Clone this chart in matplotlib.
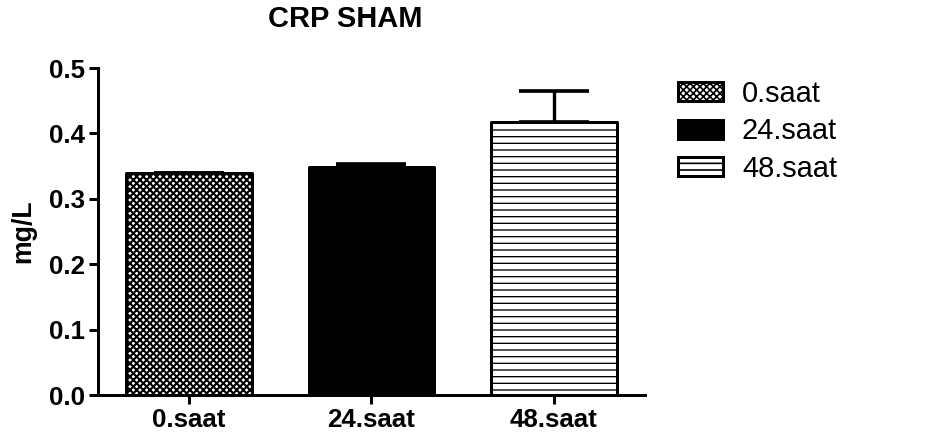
import numpy as np
import matplotlib.pyplot as plt

plt.rcParams['font.family'] = ['Liberation Sans', 'DejaVu Sans']

# CRP values per time point (mean and upper error)
groups = ['0.saat', '24.saat', '48.saat']
means = [0.339, 0.349, 0.417]
errs = [0.0, 0.004, 0.048]
hatches = ['xxxxxx', '', '---']
fills = ['white', 'black', 'white']

fig = plt.figure(figsize=(934 / 120, 436 / 120), dpi=120)
ax = fig.add_axes([0.1049, 0.094, 0.5857, 0.75])

x = np.arange(len(groups))
for i in range(len(groups)):
    bars = ax.bar(x[i], means[i], width=0.69, color=fills[i], edgecolor='black',
                  linewidth=1.8, hatch=hatches[i], label=groups[i], zorder=2)
    for b in bars:
        b.set_joinstyle('round')
        if hasattr(b, 'set_hatch_linewidth'):
            b.set_hatch_linewidth(1.25 if i == 0 else 0.8)

# only the upper half of the error bar is shown
ax.errorbar(x, means, yerr=[np.zeros(len(errs)), errs], fmt='none', ecolor='black',
            elinewidth=2.0, capsize=21, capthick=2.2, zorder=3)

ax.set_xlim(-0.5, 2.5)
ax.set_ylim(0, 0.5)
ax.set_yticks([0.0, 0.1, 0.2, 0.3, 0.4, 0.5])
ax.set_yticklabels(['0.0', '0.1', '0.2', '0.3', '0.4', '0.5'])
ax.set_xticks(x)
ax.set_xticklabels(groups)
for lab in ax.get_xticklabels() + ax.get_yticklabels():
    lab.set_fontweight('bold')
ax.tick_params(axis='both', labelsize=15.5, width=1.8, length=5.5, pad=2)

for s in ['top', 'right']:
    ax.spines[s].set_visible(False)
for s in ['left', 'bottom']:
    ax.spines[s].set_linewidth(1.8)

ax.set_ylabel('mg/L', fontsize=16, fontweight='bold', labelpad=8)
fig.text(345 / 934, 1 - 19 / 436, 'CRP SHAM', fontsize=17.4, fontweight='bold',
         ha='center', va='center')

leg = fig.legend(loc='upper left', bbox_to_anchor=(0.726, 0.817), frameon=False,
                 fontsize=17.4, handlelength=1.55, handleheight=0.62,
                 handletextpad=0.65, labelspacing=0.33, borderpad=0, borderaxespad=0)

fig.savefig('out.png', dpi=120)
